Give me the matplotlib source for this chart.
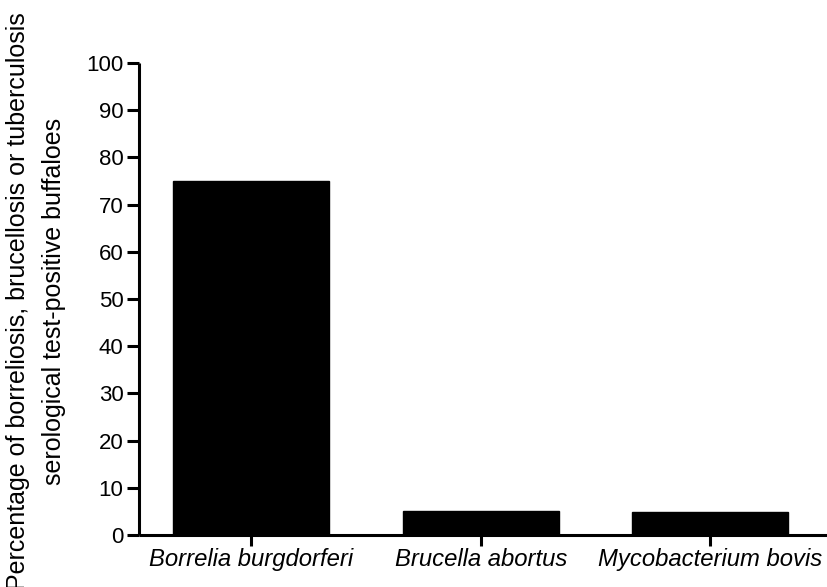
import matplotlib
matplotlib.use("Agg")
import matplotlib.pyplot as plt

# data
pathogens = ["Borrelia burgdorferi", "Brucella abortus", "Mycobacterium bovis"]
positive_pct = [75.0, 5.0, 4.8]
y_ticks = [0, 10, 20, 30, 40, 50, 60, 70, 80, 90, 100]
y_label = ("Percentage of borreliosis, brucellosis or tuberculosis\n"
           "serological test-positive buffaloes")

plt.rcParams["font.family"] = ["Liberation Sans", "DejaVu Sans"]

fig = plt.figure(figsize=(8.27, 5.87), dpi=100)
ax = fig.add_axes([139 / 827, 1 - 535 / 587, 1 - 139 / 827, (535 - 63) / 587])

x = list(range(len(pathogens)))
ax.bar(x, positive_pct, width=0.68, color="black", edgecolor="black", linewidth=1)

ax.set_xlim(-0.49, 2.51)
ax.set_ylim(0, 100)
ax.set_yticks(y_ticks)
ax.set_xticks(x)
ax.set_xticklabels(pathogens, fontstyle="italic", fontsize=17.2)
ax.tick_params(axis="y", labelsize=16, length=8.6, width=2.2, pad=2.5)
ax.tick_params(axis="x", length=8, width=2.2, pad=1.5)

for side in ["top", "right"]:
    ax.spines[side].set_visible(False)
for side in ["left", "bottom"]:
    ax.spines[side].set_linewidth(2.2)
    ax.spines[side].set_capstyle("butt")

# the reference clips the first letter of the label at the bottom edge too
fig.text(36 / 827, 1 - 301 / 587, y_label, rotation=90, ha="center", va="center",
         multialignment="center", fontsize=18, linespacing=1.6)

fig.savefig("out.png", dpi=100)
